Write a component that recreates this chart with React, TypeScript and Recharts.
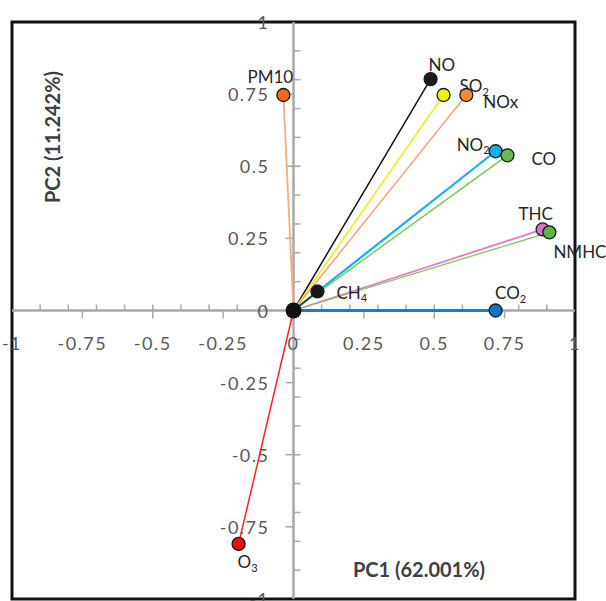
import React from "react";
import { ScatterChart, Scatter, XAxis, YAxis, ReferenceArea } from "recharts";

// ---- data ----
const variables = ["NO", "SO2", "NOx", "PM10", "NO2", "CO", "THC", "NMHC", "CH4", "CO2", "O3"];
const pc1 = [0.487, 0.533, 0.614, -0.036, 0.718, 0.76, 0.885, 0.909, 0.085, 0.718, -0.195];
const pc2 = [0.802, 0.747, 0.747, 0.747, 0.552, 0.538, 0.281, 0.271, 0.066, 0.0, -0.809];
const labelMain = ["NO", "SO", "NOx", "PM10", "NO", "CO", "THC", "NMHC", "CH", "CO", "O"];
const labelSub = ["", "2", "", "", "2", "", "", "", "4", "2", "3"];

const majorTicks = [-1, -0.75, -0.5, -0.25, 0, 0.25, 0.5, 0.75, 1];
const majorLabels = ["-1", "-0.75", "-0.5", "-0.25", "0", "0.25", "0.5", "0.75", "1"];
const minorTicks = [-0.9, -0.8, -0.7, -0.6, -0.5, -0.4, -0.3, -0.2, -0.1, 0.1, 0.2, 0.3, 0.4, 0.5, 0.6, 0.7, 0.8, 0.9];
const majorMarks = [-0.75, -0.5, -0.25, 0.25, 0.5, 0.75];

// ---- styles ----
const styles: Record<string, { line: string; fill: string; lw: number; dx: number; dy: number; anchor: string }> = {
  NO: { line: "#111111", fill: "#1a1a1a", lw: 1.5, dx: -2, dy: -15, anchor: "start" },
  SO2: { line: "#eeee10", fill: "#f0f000", lw: 1.5, dx: 16, dy: -9, anchor: "start" },
  NOx: { line: "#f6a57c", fill: "#f5883a", lw: 1.5, dx: 17, dy: 7, anchor: "start" },
  PM10: { line: "#f5ad80", fill: "#f06818", lw: 1.8, dx: -13, dy: -18, anchor: "middle" },
  NO2: { line: "#10b0ee", fill: "#10b0f0", lw: 2.2, dx: -6, dy: -7, anchor: "end" },
  CO: { line: "#78c85a", fill: "#62c048", lw: 1.5, dx: 24, dy: 3, anchor: "start" },
  THC: { line: "#e67cc6", fill: "#dc70c4", lw: 1.8, dx: -7, dy: -16, anchor: "middle" },
  NMHC: { line: "#7cc860", fill: "#58b846", lw: 1.3, dx: 4, dy: 19, anchor: "start" },
  CH4: { line: "#1d3b2e", fill: "#151515", lw: 1.5, dx: 19, dy: 1, anchor: "start" },
  CO2: { line: "#1580c8", fill: "#0a74c4", lw: 3, dx: 15, dy: -18, anchor: "middle" },
  O3: { line: "#ff2020", fill: "#ee1010", lw: 1.5, dx: -1, dy: 18, anchor: "start" },
};

const FONT = "Lato, 'Open Sans', sans-serif";
const AXIS_GRAY = "#a9a9a9";
const TICK_TEXT = "#595959";

const pointData = variables.map((v, i) => ({ x: pc1[i], y: pc2[i], name: v, main: labelMain[i], sub: labelSub[i] }));
const empty = () => <g />;

const PointShape = (props: any) => {
  const { cx, cy, payload } = props;
  const s = styles[payload.name];
  return (
    <g>
      <circle cx={cx} cy={cy} r={6.5} fill={s.fill} stroke="#1a1a1a" strokeWidth={1.3} />
      <text
        x={cx + s.dx}
        y={cy + s.dy}
        textAnchor={s.anchor as any}
        dominantBaseline="central"
        fontFamily={FONT}
        fontSize={17}
        fill="#262626"
      >
        {payload.main}
        {payload.sub ? (
          <tspan fontSize={11} dy={5}>
            {payload.sub}
          </tspan>
        ) : null}
      </text>
    </g>
  );
};

const OriginShape = (props: any) => <circle cx={props.cx} cy={props.cy} r={8} fill="#111" />;

const XMinor = (p: any) => <line x1={p.cx} y1={p.cy} x2={p.cx} y2={p.cy - 6} stroke={AXIS_GRAY} strokeWidth={1.5} />;
const XMajor = (p: any) => <line x1={p.cx} y1={p.cy} x2={p.cx} y2={p.cy + 8} stroke={AXIS_GRAY} strokeWidth={1.5} />;
const YMinor = (p: any) => <line x1={p.cx} y1={p.cy} x2={p.cx + 7} y2={p.cy} stroke={AXIS_GRAY} strokeWidth={1.5} />;
const YMajor = (p: any) => <line x1={p.cx} y1={p.cy} x2={p.cx - 8} y2={p.cy} stroke={AXIS_GRAY} strokeWidth={1.5} />;

const XLabel = (p: any) => (
  <text x={p.cx} y={p.cy + 32} textAnchor="middle" dominantBaseline="central" fontFamily={FONT} fontSize={18} letterSpacing={1.5} fill={TICK_TEXT}>
    {p.payload.label}
  </text>
);
const YLabel = (p: any) => (
  <text x={p.cx - 24} y={p.cy} textAnchor="end" dominantBaseline="central" fontFamily={FONT} fontSize={18} letterSpacing={1.5} fill={TICK_TEXT}>
    {p.payload.label}
  </text>
);

export default function App() {
  const xMinorData = minorTicks.map((t) => ({ x: t, y: 0 }));
  const xMajorData = majorMarks.map((t) => ({ x: t, y: 0 }));
  const yMinorData = minorTicks.map((t) => ({ x: 0, y: t }));
  const yMajorData = majorMarks.map((t) => ({ x: 0, y: t }));
  const xLabelData = majorTicks.map((t, i) => ({ x: t, y: 0, label: majorLabels[i] }));
  const yLabelData = majorTicks.map((t, i) => ({ x: 0, y: t, label: majorLabels[i] }));

  return (
    <div style={{ position: "absolute", left: 0, top: 0, width: 606, height: 601, background: "#fff" }}>
      <ScatterChart width={606} height={601} margin={{ top: 22, right: 31, bottom: 2, left: 12 }}>
        <XAxis type="number" dataKey="x" domain={[-1, 1]} hide />
        <YAxis type="number" dataKey="y" domain={[-1, 1]} hide />
        <ReferenceArea x1={-1} x2={1} y1={-1} y2={1} fill="none" stroke="#111" strokeWidth={3} ifOverflow="visible" />
        <Scatter data={[{ x: -1, y: 0 }, { x: 1, y: 0 }]} line={{ stroke: AXIS_GRAY, strokeWidth: 2.5 }} shape={empty} isAnimationActive={false} legendType="none" />
        <Scatter data={[{ x: 0, y: -1 }, { x: 0, y: 1 }]} line={{ stroke: AXIS_GRAY, strokeWidth: 2.5 }} shape={empty} isAnimationActive={false} legendType="none" />
        <Scatter data={xMinorData} shape={XMinor} isAnimationActive={false} legendType="none" />
        <Scatter data={xMajorData} shape={XMajor} isAnimationActive={false} legendType="none" />
        <Scatter data={yMinorData} shape={YMinor} isAnimationActive={false} legendType="none" />
        <Scatter data={yMajorData} shape={YMajor} isAnimationActive={false} legendType="none" />
        <Scatter data={xLabelData} shape={XLabel} isAnimationActive={false} legendType="none" />
        <Scatter data={yLabelData} shape={YLabel} isAnimationActive={false} legendType="none" />
        {variables.map((v, i) => (
          <Scatter
            key={v}
            data={[{ x: 0, y: 0 }, { x: pc1[i], y: pc2[i] }]}
            line={{ stroke: styles[v].line, strokeWidth: styles[v].lw }}
            shape={empty}
            isAnimationActive={false}
            legendType="none"
          />
        ))}
        <Scatter data={[{ x: 0, y: 0 }]} shape={OriginShape} isAnimationActive={false} legendType="none" />
        <Scatter data={pointData} shape={PointShape} isAnimationActive={false} legendType="none" />
      </ScatterChart>
      <svg width={606} height={601} style={{ position: "absolute", left: 0, top: 0, pointerEvents: "none" }}>
        <text x={419} y={569} textAnchor="middle" dominantBaseline="central" fontFamily={FONT} fontSize={20} fontWeight="bold" fill="#404040">
          PC1 (62.001%)
        </text>
        <text
          x={52}
          y={137}
          textAnchor="middle"
          dominantBaseline="central"
          fontFamily={FONT}
          fontSize={20}
          fontWeight="bold"
          fill="#404040"
          transform="rotate(-90 52 137)"
        >
          PC2 (11.242%)
        </text>
      </svg>
    </div>
  );
}
